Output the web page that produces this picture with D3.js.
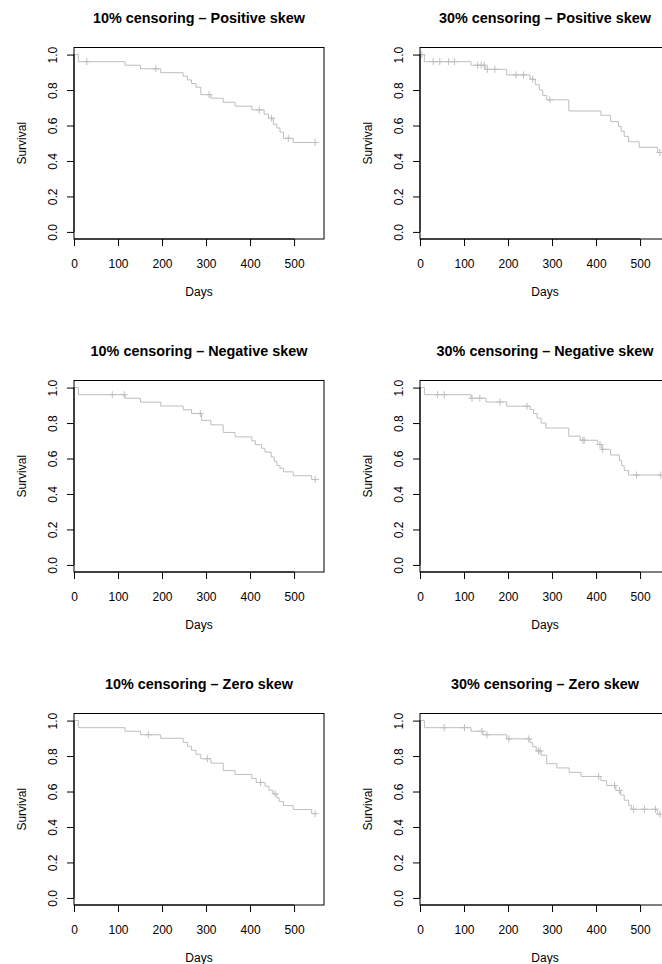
<!DOCTYPE html>
<html>
<head>
<meta charset="utf-8">
<script src="https://cdn.jsdelivr.net/npm/d3@7"></script>
<style>
  body { margin: 0; background: #fff; }
  svg { display: block; font-family: "Liberation Sans", Arial, Helvetica, sans-serif; }
</style>
</head>
<body>
<svg id="chart"></svg>
<script>
// panel titles, row by row
var titles = [
  "10% censoring \u2013 Positive skew", "30% censoring \u2013 Positive skew",
  "10% censoring \u2013 Negative skew", "30% censoring \u2013 Negative skew",
  "10% censoring \u2013 Zero skew", "30% censoring \u2013 Zero skew"
];
var xTicks = [0, 100, 200, 300, 400, 500];
var yTicks = [0, 0.2, 0.4, 0.6, 0.8, 1.0];

// Kaplan-Meier steps (time, survival) and censor marks
var p1Times = [0, 10, 116, 151, 197, 248, 258, 267, 277, 288, 311, 339, 366, 404, 432, 442, 453, 461, 468, 476, 498, 548];
var p1Surv  = [1, 0.96, 0.94, 0.92, 0.898, 0.878, 0.857, 0.837, 0.816, 0.774, 0.754, 0.731, 0.709, 0.688, 0.664, 0.641, 0.607, 0.586, 0.563, 0.528, 0.504, 0.504];
var p1CensT = [29, 186, 307, 421, 449, 487, 548];
var p1CensS = [0.96, 0.92, 0.774, 0.688, 0.641, 0.528, 0.504];

var p2Times = [0, 10, 116, 148, 197, 250, 262, 271, 279, 288, 338, 411, 433, 451, 457, 464, 474, 498, 540, 545];
var p2Surv  = [1, 0.96, 0.94, 0.917, 0.885, 0.861, 0.83, 0.80, 0.77, 0.745, 0.682, 0.658, 0.622, 0.596, 0.568, 0.539, 0.508, 0.477, 0.448, 0.448];
var p2CensT = [4, 30, 45, 65, 78, 131, 139, 146, 153, 170, 218, 235, 256, 295, 545];
var p2CensS = [1, 0.96, 0.96, 0.96, 0.96, 0.94, 0.94, 0.94, 0.917, 0.917, 0.885, 0.885, 0.861, 0.745, 0.448];

var p3Times = [0, 10, 116, 151, 197, 248, 267, 290, 311, 339, 366, 404, 412, 426, 434, 448, 455, 461, 468, 476, 498, 540, 548];
var p3Surv  = [1, 0.96, 0.94, 0.918, 0.896, 0.875, 0.854, 0.815, 0.79, 0.747, 0.722, 0.70, 0.678, 0.658, 0.636, 0.609, 0.585, 0.56, 0.545, 0.525, 0.503, 0.482, 0.482];
var p3CensT = [87, 114, 287, 548];
var p3CensS = [0.96, 0.96, 0.854, 0.482];

var p4Times = [0, 10, 116, 150, 197, 250, 258, 266, 275, 286, 338, 364, 404, 413, 433, 453, 458, 464, 474, 547];
var p4Surv  = [1, 0.96, 0.94, 0.919, 0.895, 0.876, 0.853, 0.828, 0.80, 0.772, 0.726, 0.703, 0.679, 0.652, 0.62, 0.589, 0.56, 0.532, 0.507, 0.507];
var p4CensT = [40, 55, 118, 136, 182, 243, 370, 373, 409, 415, 492, 547];
var p4CensS = [0.96, 0.96, 0.94, 0.94, 0.919, 0.895, 0.703, 0.703, 0.679, 0.652, 0.507, 0.507];

var p5Times = [0, 10, 116, 151, 197, 248, 258, 267, 277, 288, 311, 339, 366, 404, 414, 434, 443, 452, 461, 466, 476, 498, 540, 548];
var p5Surv  = [1, 0.96, 0.94, 0.92, 0.90, 0.877, 0.855, 0.833, 0.81, 0.785, 0.76, 0.718, 0.696, 0.673, 0.651, 0.63, 0.607, 0.587, 0.565, 0.543, 0.521, 0.498, 0.475, 0.475];
var p5CensT = [169, 303, 424, 457, 548];
var p5CensS = [0.92, 0.785, 0.651, 0.587, 0.475];

var p6Times = [0, 10, 116, 143, 197, 250, 256, 264, 275, 288, 311, 339, 366, 411, 424, 445, 456, 464, 474, 480, 539, 547];
var p6Surv  = [1, 0.96, 0.94, 0.92, 0.897, 0.876, 0.853, 0.829, 0.805, 0.757, 0.733, 0.708, 0.685, 0.661, 0.634, 0.606, 0.58, 0.551, 0.522, 0.50, 0.472, 0.472];
var p6CensT = [55, 101, 141, 152, 202, 247, 269, 273, 406, 442, 453, 485, 510, 535, 545];
var p6CensS = [0.96, 0.96, 0.94, 0.92, 0.897, 0.897, 0.829, 0.829, 0.685, 0.634, 0.606, 0.50, 0.50, 0.50, 0.472];

var panels = [
  [p1Times, p1Surv, p1CensT, p1CensS],
  [p2Times, p2Surv, p2CensT, p2CensS],
  [p3Times, p3Surv, p3CensT, p3CensS],
  [p4Times, p4Surv, p4CensT, p4CensS],
  [p5Times, p5Surv, p5CensT, p5CensS],
  [p6Times, p6Surv, p6CensT, p6CensS]
];

var W = 662, H = 964;
var colLeft = [74, 420];
var rowTop = [47.5, 380.5, 713.5];
var boxW = 250, boxH = 191.5;
var curveColor = "#bebebe";

var svg = d3.select("#chart").attr("width", W).attr("height", H);
svg.append("rect").attr("width", W).attr("height", H).attr("fill", "#fff");

panels.forEach(function (p, i) {
  var left = colLeft[i % 2];
  var top = rowTop[Math.floor(i / 2)];
  drawPanel(left, top, titles[i], p[0], p[1], p[2], p[3]);
});

function drawPanel(left, top, title, times, surv, censT, censS) {
  // R survfit style: x starts at 0, extends 4% on the right; y extends 4% both ways
  var x = d3.scaleLinear().domain([0, 568]).range([left, left + boxW]);
  var y = d3.scaleLinear().domain([-0.04, 1.04]).range([top + boxH, top]);
  var g = svg.append("g");

  var pts = times.map(function (t, k) { return [t, surv[k]]; });
  var line = d3.line()
    .x(function (d) { return x(d[0]); })
    .y(function (d) { return y(d[1]); })
    .curve(d3.curveStepAfter);

  g.append("path")
    .attr("d", line(pts))
    .attr("fill", "none")
    .attr("stroke", curveColor)
    .attr("stroke-width", 1);

  g.selectAll(".cens")
    .data(censT)
    .enter()
    .append("path")
    .attr("transform", function (d, k) {
      return "translate(" + x(d) + "," + y(censS[k]) + ")";
    })
    .attr("d", "M-3.5,0H3.5M0,-3.5V3.5")
    .attr("stroke", curveColor)
    .attr("stroke-width", 1);

  // plot box
  g.append("rect")
    .attr("x", left)
    .attr("y", top)
    .attr("width", boxW)
    .attr("height", boxH)
    .attr("fill", "none")
    .attr("stroke", "#000")
    .attr("stroke-width", 1);

  // x axis
  var xa = g.append("g")
    .attr("transform", "translate(0," + (top + boxH) + ")")
    .call(d3.axisBottom(x).tickValues(xTicks).tickSize(7).tickPadding(13).tickSizeOuter(0));
  xa.select(".domain").remove();
  xa.append("line")
    .attr("x1", x(xTicks[0])).attr("x2", x(xTicks[xTicks.length - 1]))
    .attr("stroke", "#000");
  xa.selectAll("text")
    .attr("fill", "#000")
    .style("font-size", "12px")
    .style("font-family", "'Liberation Sans', Arial, sans-serif");

  // y axis with rotated labels
  var ya = g.append("g")
    .attr("transform", "translate(" + left + ",0)")
    .call(d3.axisLeft(y).tickValues(yTicks).tickSize(7).tickSizeOuter(0).tickFormat(d3.format(".1f")));
  ya.select(".domain").remove();
  ya.append("line")
    .attr("y1", y(yTicks[0])).attr("y2", y(yTicks[yTicks.length - 1]))
    .attr("stroke", "#000");
  ya.selectAll("text")
    .attr("x", 0)
    .attr("dy", 0)
    .attr("text-anchor", "middle")
    .attr("transform", "translate(-17.5,0) rotate(-90)")
    .attr("fill", "#000")
    .style("font-size", "12px")
    .style("font-family", "'Liberation Sans', Arial, sans-serif");

  // labels
  g.append("text")
    .attr("x", left + boxW / 2)
    .attr("y", top - 25)
    .attr("text-anchor", "middle")
    .style("font-size", "14.4px")
    .style("font-weight", "bold")
    .text(title);

  g.append("text")
    .attr("x", x(284))
    .attr("y", top + boxH + 57)
    .attr("text-anchor", "middle")
    .style("font-size", "12px")
    .text("Days");

  g.append("text")
    .attr("transform", "translate(" + (left - 48) + "," + (top + boxH / 2) + ") rotate(-90)")
    .attr("text-anchor", "middle")
    .style("font-size", "12px")
    .text("Survival");
}
</script>
</body>
</html>
